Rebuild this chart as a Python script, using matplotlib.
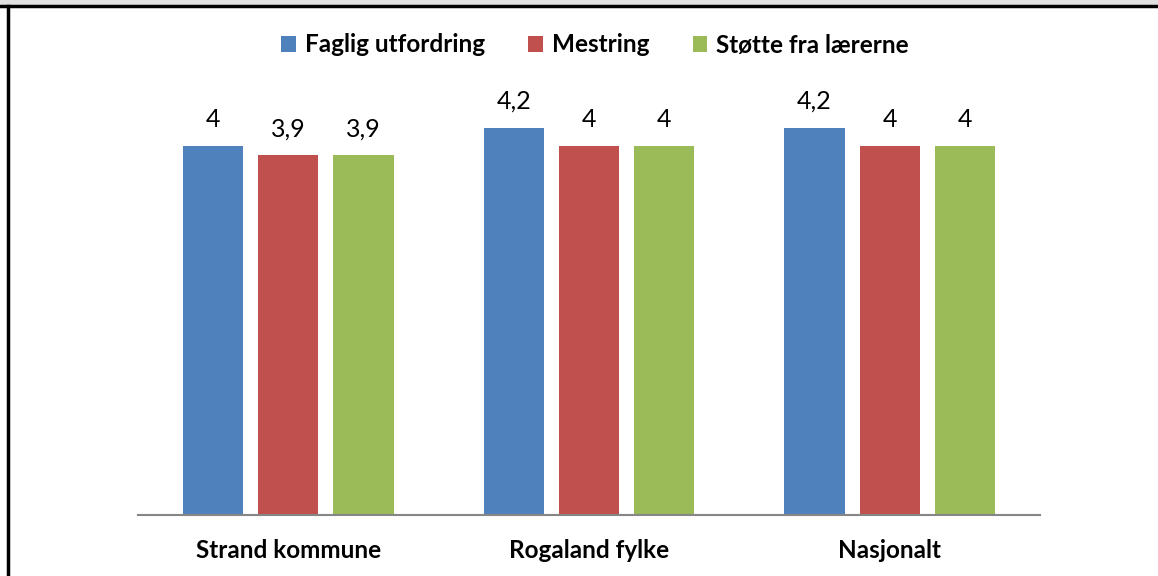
import numpy as np
import matplotlib
matplotlib.use("Agg")
import matplotlib.pyplot as plt
from matplotlib.patches import Rectangle

plt.rcParams['font.family'] = ['Lato', 'DejaVu Sans']

categories = ['Strand kommune', 'Rogaland fylke', 'Nasjonalt']
series = ['Faglig utfordring', 'Mestring', 'Støtte fra lærerne']
faglig = [4.0, 4.2, 4.2]
mestring = [3.9, 4.0, 4.0]
stotte = [3.9, 4.0, 4.0]
colors = ['#4F81BD', '#C0504D', '#9BBB59']

W, H = 1158, 576
fig = plt.figure(figsize=(W / 100, H / 100), dpi=100)

# frame bits from the original document: grey strip, black top and left lines
fig.patches.append(Rectangle((0, 1 - 6 / H), 1, 6 / H, transform=fig.transFigure,
                             facecolor='#e0e0e0', edgecolor='none', zorder=0))
fig.add_artist(plt.Line2D([0, 1], [1 - 6 / H, 1 - 6 / H], color='black', lw=2.5,
                          transform=fig.transFigure))
fig.add_artist(plt.Line2D([8 / W, 8 / W], [0, 1 - 6 / H], color='black', lw=2.5,
                          transform=fig.transFigure))

ax = fig.add_axes([138 / W, (H - 515) / H, 902 / W, 461 / H])
x = np.arange(len(categories))
width = 0.2
offsets = [-0.25, 0, 0.25]
handles = []
for vals, off, col, name in zip([faglig, mestring, stotte], offsets, colors, series):
    bars = ax.bar(x + off, vals, width=width, color=col, label=name)
    handles.append(bars)
    for b, v in zip(bars, vals):
        ax.annotate(('%g' % v).replace('.', ','), (b.get_x() + b.get_width() / 2, v),
                    xytext=(0, 13.5), textcoords='offset points', ha='center', va='baseline',
                    fontsize=18, color='black')

ax.set_xlim(-0.5, 2.5)
ax.set_ylim(0, 5)
ax.set_yticks([])
ax.set_xticks(x)
ax.set_xticklabels(categories, fontsize=17.5, fontweight='bold')
ax.tick_params(axis='x', length=0, pad=17)
for s in ['top', 'right', 'left']:
    ax.spines[s].set_visible(False)
ax.spines['bottom'].set_color('#868686')
ax.spines['bottom'].set_linewidth(1.5)

fig.legend(handles=handles, labels=series, loc='center', bbox_to_anchor=(595 / W, 1 - 45 / H),
           ncol=3, frameon=False, prop={'size': 17.5, 'weight': 'bold'},
           handlelength=0.6, handleheight=0.6, handletextpad=0.35, columnspacing=1.8)

fig.savefig('out.png', dpi=100)
